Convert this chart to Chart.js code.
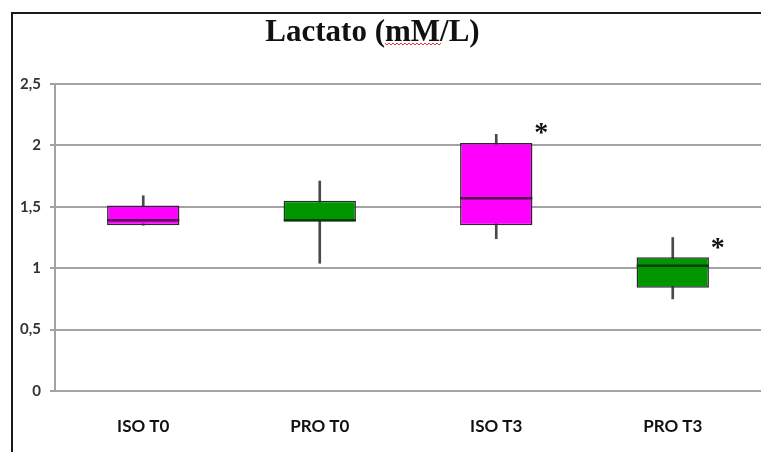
<!DOCTYPE html>
<html><head><meta charset="utf-8">
<script src="https://cdn.jsdelivr.net/npm/chart.js@4"></script>
<style>
html,body{margin:0;padding:0;background:#fff;}
#wrap{position:relative;width:761px;height:452px;overflow:hidden;}
#frame{position:absolute;left:11px;top:12px;width:800px;height:500px;border-top:2px solid #1a1a1a;border-left:2px solid #1a1a1a;pointer-events:none;}
</style></head><body>
<div id="wrap"><canvas id="c" width="761" height="452"></canvas><div id="frame"></div></div>
<script>
const categories = ['ISO T0', 'PRO T0', 'ISO T3', 'PRO T3'];
const whiskerMin = [1.35, 1.04, 1.24, 0.75];
const q1 = [1.35, 1.38, 1.35, 0.84];
const median = [1.39, 1.39, 1.57, 1.02];
const q3 = [1.51, 1.55, 2.02, 1.09];
const whiskerMax = [1.59, 1.71, 2.09, 1.25];
const significance = ['', '', '*', '*'];
const yTickValues = [0, 0.5, 1, 1.5, 2, 2.5];
const yTickLabels = ['0', '0,5', '1', '1,5', '2', '2,5'];
const chartTitle = 'Lactato (mM/L)';

const boxColors = ['#ff00ff', '#009600', '#ff00ff', '#009600'];
const medianColors = ['#4a0a4a', '#0a3a0a', '#4a0a4a', '#0a3a0a'];

const annot = {
  id: 'annot',
  afterDraw(chart) {
    const ctx = chart.ctx, xs = chart.scales.x, ys = chart.scales.y;
    ctx.save();
    ctx.fillStyle = '#111';
    ctx.font = 'bold 31px "Liberation Serif", "Times New Roman", serif';
    ctx.textAlign = 'left';
    ctx.textBaseline = 'alphabetic';
    const tw = ctx.measureText(chartTitle).width;
    const tx = chart.width / 2 - 8 - tw / 2;
    ctx.fillText(chartTitle, tx, 41);
    // spell-check squiggle under "mM"
    const pre = ctx.measureText('Lactato (').width;
    const w = ctx.measureText('mM').width;
    ctx.strokeStyle = '#e0303a';
    ctx.lineWidth = 1;
    ctx.beginPath();
    for (let i = 0; i <= Math.round(w / 2); i++) {
      const px = tx + pre + i * 2, py = 44 + (i % 2 ? 1 : -1) * 1;
      if (i === 0) ctx.moveTo(px, py); else ctx.lineTo(px, py);
    }
    ctx.stroke();
    ctx.textAlign = 'center';
    ctx.font = 'bold 28px "Liberation Serif", serif';
    significance.forEach((s, i) => {
      if (!s) return;
      const m = ctx.measureText(s);
      const cx = xs.getPixelForValue(i) + 45;
      const cy = ys.getPixelForValue(q3[i]) - 14;
      ctx.fillText(s, cx, cy + (m.actualBoundingBoxAscent - m.actualBoundingBoxDescent) / 2);
    });
    ctx.restore();
  }
};

new Chart(document.getElementById('c'), {
  type: 'bar',
  data: {
    labels: categories,
    datasets: [
      {
        type: 'line', label: 'median', data: median, showLine: false,
        pointStyle: 'line', pointRadius: 36, pointHoverRadius: 36,
        pointBorderWidth: 2.5, pointHoverBorderWidth: 2.5, pointBorderColor: medianColors, order: 1
      },
      {
        type: 'bar', label: 'box', data: categories.map((c, i) => [q1[i], q3[i]]),
        backgroundColor: boxColors, borderColor: '#2b2b2b', borderWidth: 1.5, borderSkipped: false,
        grouped: false, barPercentage: 0.41, categoryPercentage: 1, order: 2
      },
      {
        type: 'bar', label: 'whisker', data: categories.map((c, i) => [whiskerMin[i], whiskerMax[i]]),
        backgroundColor: '#4a4a4a', barThickness: 2, grouped: false, order: 3
      }
    ]
  },
  options: {
    responsive: false,
    animation: false,
    layout: { autoPadding: false, padding: { top: 84, left: 0, right: 0, bottom: 0 } },
    plugins: { legend: { display: false }, tooltip: { enabled: false }, title: { display: false } },
    scales: {
      x: {
        grid: { display: false, drawTicks: false },
        border: { display: false },
        ticks: { color: '#111', padding: 25, font: { family: 'Lato, "Liberation Sans", Arial', size: 17, weight: 'bold' } },
        afterFit: s => { s.height = 61; }
      },
      y: {
        min: 0, max: 2.5,
        afterBuildTicks: s => { s.ticks = yTickValues.map(v => ({ value: v })); },
        ticks: {
          callback: v => yTickLabels[yTickValues.indexOf(v)],
          color: '#333', padding: 9,
          font: { family: 'Lato, "Liberation Sans", Arial', size: 15, weight: 'bold' }
        },
        grid: { color: '#a3a3a3', lineWidth: 2, tickLength: 5, drawTicks: true },
        border: { color: '#a3a3a3', width: 2 },
        afterFit: s => { s.width = 55; }
      }
    }
  },
  plugins: [annot]
});
</script>
</body></html>
